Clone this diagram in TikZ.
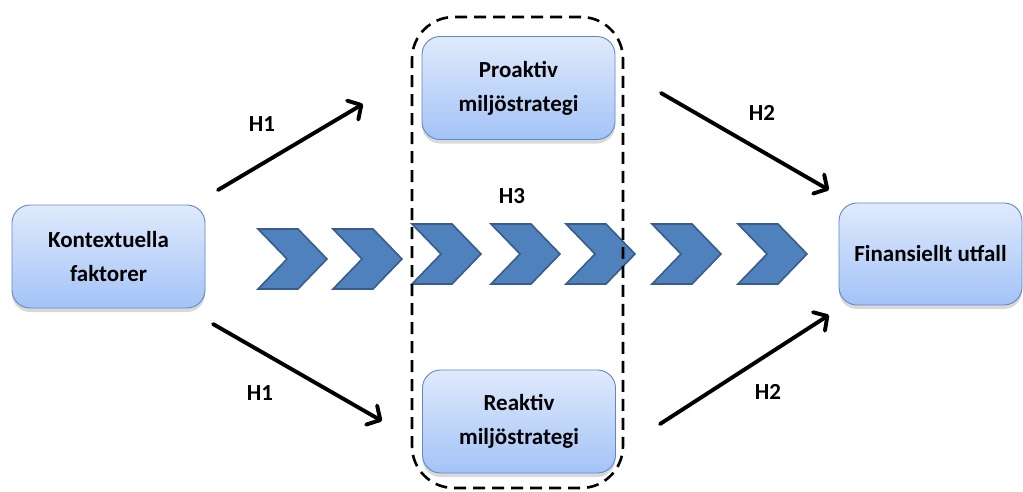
\documentclass[tikz,border=0pt]{standalone}
\usepackage{fontspec}
\setmainfont{Carlito}
\usetikzlibrary{arrows.meta, positioning, shadows}

\definecolor{boxtop}{RGB}{224,234,252}
\definecolor{boxbot}{RGB}{163,195,247}
\definecolor{boxedge}{RGB}{96,136,196}
\definecolor{chevfill}{RGB}{79,129,189}
\definecolor{chevedge}{RGB}{56,93,138}

\begin{document}
\begin{tikzpicture}[x=1pt, y=-1pt, >={Straight Barb[length=10pt, width=22pt, line cap=round, line join=round]},
		factor/.style={rectangle, rounded corners=18pt, draw=boxedge, line width=0.9pt, top color=boxtop, bottom color=boxbot, minimum width=193pt, minimum height=103pt, align=center, font=\fontsize{23}{34}\selectfont\bfseries, general shadow={shadow xshift=0pt, shadow yshift=-4pt, fill=black, opacity=0.15}},
		hyp/.style={->, line width=3.9pt, line cap=round},
		hlabel/.style={font=\fontsize{23}{27}\selectfont\bfseries},
		chevron/.style={fill=chevfill, draw=chevedge, line width=1.6pt, line join=miter}]
		
		\useasboundingbox (0,0) rectangle (1023,491);
		
		\node[factor] (kon) at (108.5,256.5) {Kontextuella\\faktorer};
		\node[factor] (pro) at (518.5,88) {Proaktiv\\miljöstrategi};
		\node[factor] (rea) at (519,421.5) {Reaktiv\\miljöstrategi};
		\node[factor, minimum width=183pt, minimum height=102pt] (fin) at (930.5,254) {Finansiellt utfall};
		
		% chevrons (H3)
		\foreach \cx/\cy in {258/229, 333/229, 412/224, 491/224, 566/224, 652/224, 738/224}
			\draw[chevron] (\cx,\cy) -- ++(40,0) -- ++(29,30) -- ++(-29,30) -- ++(-40,0) -- ++(29,-30) -- cycle;
		
		\node[draw, dash pattern=on 12pt off 7pt, line width=2.6pt, rounded corners=42pt, minimum width=211pt, minimum height=471pt] (grp) at (517.5,252.5) {};
		
		\coordinate (h1ua) at (218,190);
		\coordinate (h1ub) at (363,104);
		\coordinate (h1la) at (213,324);
		\coordinate (h1lb) at (382,421);
		\coordinate (h2ua) at (661,93);
		\coordinate (h2ub) at (829,190);
		\coordinate (h2la) at (660,424);
		\coordinate (h2lb) at (829,315);
		
		\draw[hyp] (h1ua) -- (h1ub);
		\draw[hyp] (h1la) -- (h1lb);
		\draw[hyp] (h2ua) -- (h2ub);
		\draw[hyp] (h2la) -- (h2lb);
		
		\node[hlabel] (l1u) at (262,124) {H1};
		\node[hlabel] (l1l) at (260,393) {H1};
		\node[hlabel] (l2u) at (762,113) {H2};
		\node[hlabel] (l2l) at (768,392) {H2};
		\node[hlabel] (l3) at (512,196) {H3};
	\end{tikzpicture}
\end{document}
